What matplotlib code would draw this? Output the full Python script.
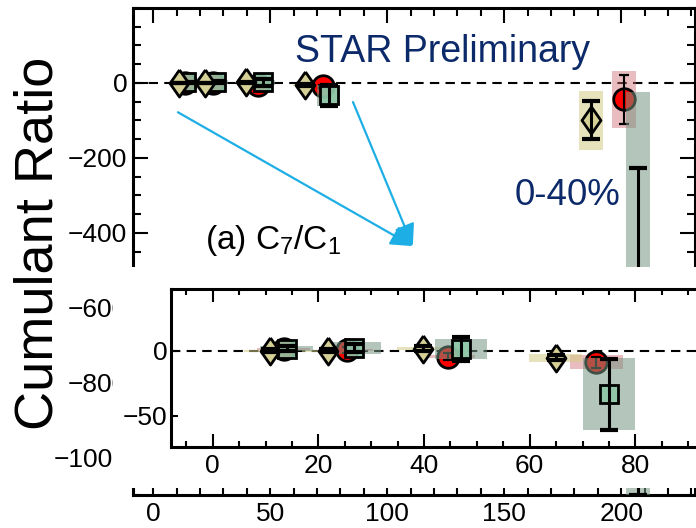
import matplotlib.pyplot as plt
import numpy as np
from matplotlib.patches import Rectangle
from matplotlib.ticker import MultipleLocator, FixedLocator

plt.rcParams["font.family"] = ["Liberation Sans", "DejaVu Sans"]
plt.rcParams["mathtext.fontset"] = "custom"
plt.rcParams["mathtext.rm"] = "Liberation Sans"
plt.rcParams["mathtext.it"] = "Liberation Sans:italic"

# C7/C1 cumulant ratio vs Npart, three data sets (value, stat err, sys err)
diamond_x = [10.9, 21.9, 39.8, 64.9, 187.0]
diamond_y = [0.0, 0.0, 1.5, -5.5, -99.5]
diamond_stat = [1.0, 1.0, 2.0, 2.0, 50.0]
diamond_sys = [0.8, 0.8, 1.2, 2.9, 79.0]

circle_x = [13.4, 25.4, 44.6, 72.6, 201.2]
circle_y = [1.0, 0.5, -4.5, -9.0, -44.0]
circle_stat = [2.0, 2.0, 3.0, 4.0, 65.0]
circle_sys = [0.8, 1.0, 1.5, 5.4, 75.0]

square_x = [14.0, 26.8, 47.0, 75.0, 207.2]
square_y = [1.5, 2.0, 1.2, -33.5, -663.0]
square_stat = [2.0, 3.0, 9.5, 27.0, 437.0]
square_sys = [2.0, 4.7, 7.7, 27.5, 638.0]

main_xticks = [0, 50, 100, 150, 200]
main_yticks = [-1000, -800, -600, -400, -200, 0]
inset_xticks = [0, 20, 40, 60, 80]
inset_yticks = [-50, 0]

NAVY = "#0c2a6a"
ARROW = "#1eaee6"
DIAMOND = [(0, 1), (0.7, 0), (0, -1), (-0.7, 0), (0, 1)]

STYLES = {
    "diamond": dict(marker=DIAMOND, ms=19.5, mfc="#d5d095", box="#d2cd86", box_alpha=0.55,
                    box_z=1, mark_z=6, elw=2.2, cap=6.5, capw=3.0),
    "circle": dict(marker="o", ms=15.5, mfc="#ff0000", box="#cf6b72", box_alpha=0.45,
                   box_z=1, mark_z=2, elw=1.5, cap=3.6, capw=1.6),
    "square": dict(marker="s", ms=13.5, mfc=(0.56, 0.78, 0.66, 0.9), box="#759582",
                   box_alpha=0.54, box_z=3, mark_z=4, elw=2.2, cap=6.5, capw=3.0),
}


def draw_series(ax, x, y, stat, sys, st):
    x, y, sys = np.asarray(x), np.asarray(y), np.asarray(sys)
    ax.bar(x, 2 * sys, width=10, bottom=y - sys, color=st["box"],
           alpha=st["box_alpha"], linewidth=0, zorder=st["box_z"])
    ax.errorbar(x, y, yerr=stat, fmt="none", ecolor="k", elinewidth=st["elw"],
                capsize=st["cap"], capthick=st["capw"], zorder=st["mark_z"] + 0.5)
    ax.plot(x, y, linestyle="none", marker=st["marker"], ms=st["ms"],
            mfc=st["mfc"], mec="k", mew=2.0, zorder=st["mark_z"])


def draw_all(ax):
    ax.axhline(0, color="k", lw=1.5, ls=(0, (4.5, 3)), zorder=0.5)
    draw_series(ax, circle_x, circle_y, circle_stat, circle_sys, STYLES["circle"])
    draw_series(ax, square_x, square_y, square_stat, square_sys, STYLES["square"])
    draw_series(ax, diamond_x, diamond_y, diamond_stat, diamond_sys, STYLES["diamond"])


fig = plt.figure(figsize=(6.96, 5.28), dpi=100)

# big panel
ax = fig.add_axes([0.191, 0.0625, 0.8075, 0.9223], zorder=0)
draw_all(ax)
ax.set_xlim(-8.7, 231.5)
ax.set_ylim(-1100, 200)
ax.xaxis.set_major_locator(FixedLocator(main_xticks))
ax.xaxis.set_minor_locator(MultipleLocator(10))
ax.yaxis.set_major_locator(FixedLocator(main_yticks))
ax.yaxis.set_minor_locator(MultipleLocator(50))
ax.tick_params(which="both", direction="in", top=True, right=True, width=1.5,
               labelsize=19)
ax.tick_params(which="major", length=11)
ax.tick_params(which="minor", length=5.5)
ax.tick_params(axis="x", pad=5)
ax.tick_params(axis="y", pad=4)
for s in ax.spines.values():
    s.set_linewidth(2.2)

ax.text(0.288, 0.889, "STAR Preliminary", transform=ax.transAxes, fontsize=27,
        color=NAVY, ha="left", va="baseline")
ax.text(0.680, 0.595, "0-40%", transform=ax.transAxes, fontsize=26.5,
        color=NAVY, ha="left", va="baseline")
ax.text(0.128, 0.505, r"(a) C$_7$/C$_1$", transform=ax.transAxes, fontsize=24,
        color="k", ha="left", va="baseline")

arrow_kw = dict(arrowstyle="-|>,head_length=0.95,head_width=0.45", color=ARROW,
                lw=1.6, mutation_scale=14, shrinkA=0, shrinkB=0)
ax.annotate("", xy=(0.498, 0.511), xytext=(0.080, 0.786),
            xycoords="axes fraction", arrowprops=arrow_kw)
ax.annotate("", xy=(0.498, 0.511), xytext=(0.3915, 0.807),
            xycoords="axes fraction", arrowprops=arrow_kw)

# white block that hides the lower part of the big panel
fig.add_artist(Rectangle((0.1624, 0.0758), 0.9, 0.4185, transform=fig.transFigure,
                         facecolor="white", edgecolor="none", zorder=1))

# zoomed panel
axi = fig.add_axes([0.2453, 0.154, 0.789, 0.2987], zorder=2)
draw_all(axi)
axi.set_xlim(-7.95, 96.0)
axi.set_ylim(-73.5, 47.2)
axi.xaxis.set_major_locator(FixedLocator(inset_xticks))
axi.xaxis.set_minor_locator(MultipleLocator(5))
axi.yaxis.set_major_locator(FixedLocator(inset_yticks))
axi.tick_params(which="both", direction="in", top=True, width=1.5, labelsize=19)
axi.tick_params(axis="x", which="major", length=9.5, pad=5)
axi.tick_params(axis="x", which="minor", length=4.5)
axi.tick_params(axis="y", which="major", length=5, pad=2.5)
for s in axi.spines.values():
    s.set_linewidth(2.2)

fig.text(0.0546, 0.5390, "Cumulant Ratio", rotation=90, fontsize=39,
         ha="center", va="center")

fig.savefig("out.png", dpi=100)
